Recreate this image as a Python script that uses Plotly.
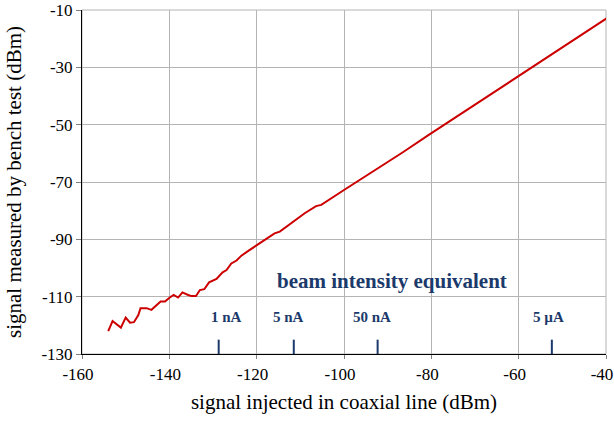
import plotly.graph_objects as go

# measured curve
x_injected = [-154, -153, -151.1, -150, -149, -148.1, -147.1, -146.6, -145.2, -144.1,
              -142, -141, -139.9, -139, -138, -137, -135.7, -134.9, -133.9, -133,
              -132, -130.9, -129.2, -127.8, -126.9, -125.8, -124.6, -123.5, -122,
              -120.5, -119.3, -117, -115.9, -114.7, -111.7, -109, -106.4, -105.2,
              -100, -91.9, -86.6, -80.5, -78.2, -70, -59.9, -50, -39.85]
y_measured = [-122.0, -118.5, -120.8, -117.3, -119.1, -118.9, -116.4, -114.0, -114.0, -114.6,
              -111.7, -111.7, -110.3, -109.4, -110.3, -108.5, -109.4, -109.8, -109.8, -107.7,
              -107.4, -105.0, -103.8, -101.5, -100.7, -98.4, -97.4, -95.7, -94.1,
              -92.6, -91.6, -89.1, -87.9, -87.3, -83.8, -80.9, -78.4, -78.0,
              -72.8, -65.0, -59.7, -53.5, -51.2, -43.1, -33.0, -23.0, -12.9]

# beam intensity equivalent markers
beam_labels = ["1 nA", "5 nA", "50 nA", "5 µA"]
beam_x = [-128.7, -111.5, -92.3, -52.4]
label_x = [-126.9, -112.6, -93.7, -53.1]

x_ticks = [-160, -140, -120, -100, -80, -60, -40]
y_ticks = [-130, -110, -90, -70, -50, -30, -10]

navy = "#1B3A6B"
font_family = "Times New Roman, Liberation Serif, DejaVu Serif, serif"

fig = go.Figure()
fig.add_trace(go.Scatter(x=x_injected, y=y_measured, mode="lines",
                         line=dict(color="#CC0000", width=2), showlegend=False))

shapes = []
for bx in beam_x:
    shapes.append(dict(type="line", xref="x", yref="y", x0=bx, x1=bx, y0=-133, y1=-125,
                       line=dict(color=navy, width=2)))

annotations = [dict(x=-89, y=-104.4, xref="x", yref="y", text="<b>beam intensity equivalent</b>",
                    showarrow=False, font=dict(family=font_family, size=21, color=navy))]
for lab, lx in zip(beam_labels, label_x):
    annotations.append(dict(x=lx, y=-117.2, xref="x", yref="y", text="<b>" + lab + "</b>",
                            showarrow=False, font=dict(family=font_family, size=15, color=navy)))

fig.update_layout(
    width=614, height=422,
    margin=dict(l=82, r=8, t=10, b=68),
    paper_bgcolor="white", plot_bgcolor="white",
    font=dict(family=font_family, size=17, color="black"),
    shapes=shapes, annotations=annotations,
    xaxis=dict(range=[-160, -39.999], tickvals=x_ticks, ticktext=[str(v) for v in x_ticks],
               ticklabeloverflow="allow", automargin=False, ticklabelshift=-4,
               ticklabelstandoff=1,
               showgrid=True, gridcolor="#B4B4B4", gridwidth=1,
               showline=True, linecolor="black", linewidth=1, mirror=False,
               ticks="outside", ticklen=4, tickcolor="#808080",
               zeroline=False,
               title=dict(text="signal injected in coaxial line (dBm)", font=dict(size=21), standoff=10)),
    yaxis=dict(range=[-130, -10], tickvals=y_ticks, ticktext=[str(v) for v in y_ticks],
               automargin=False,
               showgrid=True, gridcolor="#B4B4B4", gridwidth=1,
               showline=True, linecolor="black", linewidth=1,
               ticks="outside", ticklen=5, tickcolor="#808080",
               zeroline=False,
               title=dict(text="signal measured by bench test (dBm)", font=dict(size=21), standoff=14)),
)
# right/top gray border
fig.add_shape(type="rect", xref="paper", yref="paper", x0=0, x1=1, y0=0, y1=1,
              line=dict(color="#B4B4B4", width=1), layer="below")

fig.write_html("out.html")
